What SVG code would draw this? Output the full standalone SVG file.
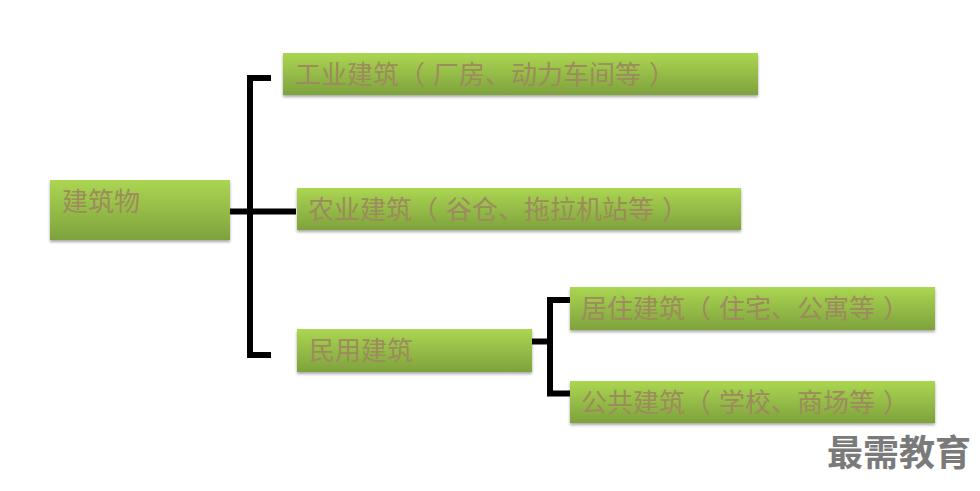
<svg xmlns="http://www.w3.org/2000/svg" width="980" height="491" viewBox="0 0 980 491">
<defs>
<linearGradient id="g" x1="0" y1="0" x2="0" y2="1">
<stop offset="0" stop-color="#abd652"/>
<stop offset="1" stop-color="#7ea23d"/>
</linearGradient>
<filter id="sh" x="-5%" y="-20%" width="110%" height="150%">
<feGaussianBlur in="SourceAlpha" stdDeviation="1.5"/>
<feOffset dx="0" dy="2" result="b"/>
<feComponentTransfer><feFuncA type="linear" slope="0.35"/></feComponentTransfer>
<feMerge><feMergeNode/><feMergeNode in="SourceGraphic"/></feMerge>
</filter>
</defs>
<style>
.box{fill:url(#g);filter:url(#sh)}
.t{font-family:"Noto Sans CJK SC","Noto Sans",sans-serif;font-size:26px;fill:#9c8b5c}
.c{fill:none;stroke:#000;stroke-width:6;stroke-linecap:butt}
.wm{font-family:"Noto Sans CJK SC",sans-serif;font-size:36px;font-weight:bold;fill:#7a7a7a}
</style>
<g id="connectors">
<path class="c" d="M271,78 H250 V355 H271"/>
<path class="c" d="M230,211.5 H296"/>
<path class="c" d="M532,341.5 H550"/>
<path class="c" d="M570,300 H550 V393.5 H570"/>
</g>
<g id="n0"><rect class="box" x="50" y="180" width="180" height="60"/><text class="t" x="62" y="211">建筑物</text></g>
<g id="n1"><rect class="box" x="283" y="53" width="475" height="42"/><text class="t" x="295" y="84">工业建筑（<tspan dx="8">厂房、动力车间等</tspan><tspan dx="8">）</tspan></text></g>
<g id="n2"><rect class="box" x="297" y="188" width="444" height="42"/><text class="t" x="308" y="219">农业建筑（<tspan dx="8">谷仓、拖拉机站等</tspan><tspan dx="8">）</tspan></text></g>
<g id="n3"><rect class="box" x="297" y="329" width="235" height="43"/><text class="t" x="309" y="360">民用建筑</text></g>
<g id="n4"><rect class="box" x="570" y="287" width="365" height="43"/><text class="t" x="581" y="318">居住建筑（<tspan dx="8">住宅、公寓等</tspan><tspan dx="8">）</tspan></text></g>
<g id="n5"><rect class="box" x="570" y="381" width="365" height="42"/><text class="t" x="581" y="412">公共建筑（<tspan dx="8">学校、商场等</tspan><tspan dx="8">）</tspan></text></g>
<text class="wm" x="827" y="466">最需教育</text>
</svg>
